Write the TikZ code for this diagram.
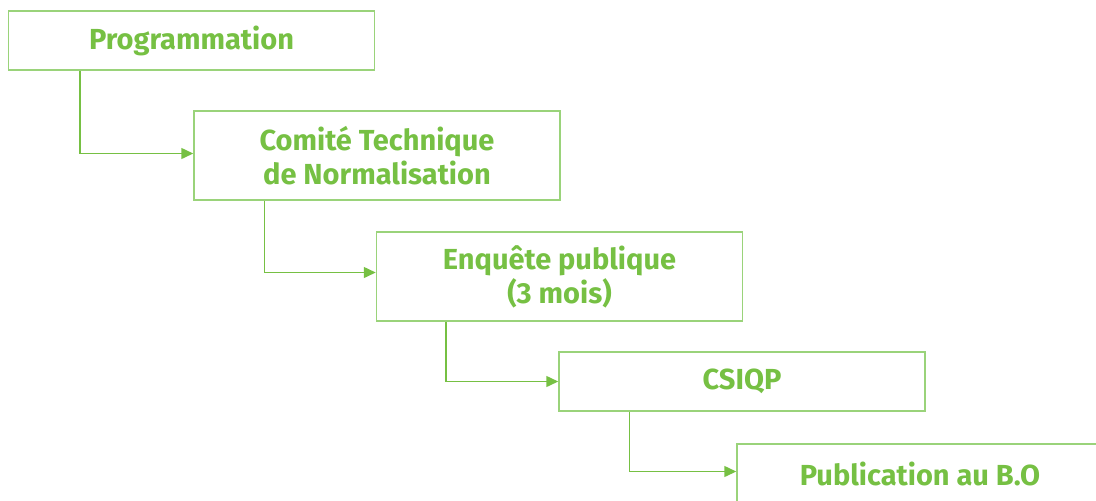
\documentclass[tikz,border=0pt]{standalone}
\usepackage{fontspec}
\setmainfont{Fira Sans}
\usetikzlibrary{arrows.meta}
\definecolor{boxline}{HTML}{9AD37A}
\definecolor{leaf}{HTML}{76C043}
\begin{document}
\begin{tikzpicture}
	[x=1pt, y=-1pt,
	stage/.style={draw=boxline, line width=1.5pt, fill=white, inner sep=0pt,
		minimum width=366pt, align=center, text=leaf,
		font=\bfseries\fontsize{29}{34}\selectfont},
	flow/.style={draw=leaf, line width=1.5pt,
		-{Triangle[length=12pt,width=11pt]}}]
	\clip (0,0) rectangle (1096,501);
	\node[stage, minimum height=59pt] (prog) at (191.5,40.5) {Programmation};
	\node[stage, minimum height=89pt] (ctn) at (377,155.5) {Comité Technique\\de Normalisation};
	\node[stage, minimum height=89pt] (enq) at (559.5,276.5) {Enquête publique\\(3 mois)};
	\node[stage, minimum height=59pt] (csiqp) at (742,381.5) {CSIQP};
	\node[stage, minimum height=59pt] (pub) at (920,473.5) {Publication au B.O};
	% fleches
	\draw[flow] ([xshift=72pt]prog.south west) |- ([yshift=2pt]ctn.west);
	\draw[flow] ([xshift=71pt]ctn.south west) |- ([yshift=4pt]enq.west);
	\draw[flow] ([xshift=70pt]enq.south west) |- (csiqp.west);
	\draw[flow] ([xshift=71pt]csiqp.south west) |- ([yshift=2pt]pub.west);
\end{tikzpicture}
\end{document}
